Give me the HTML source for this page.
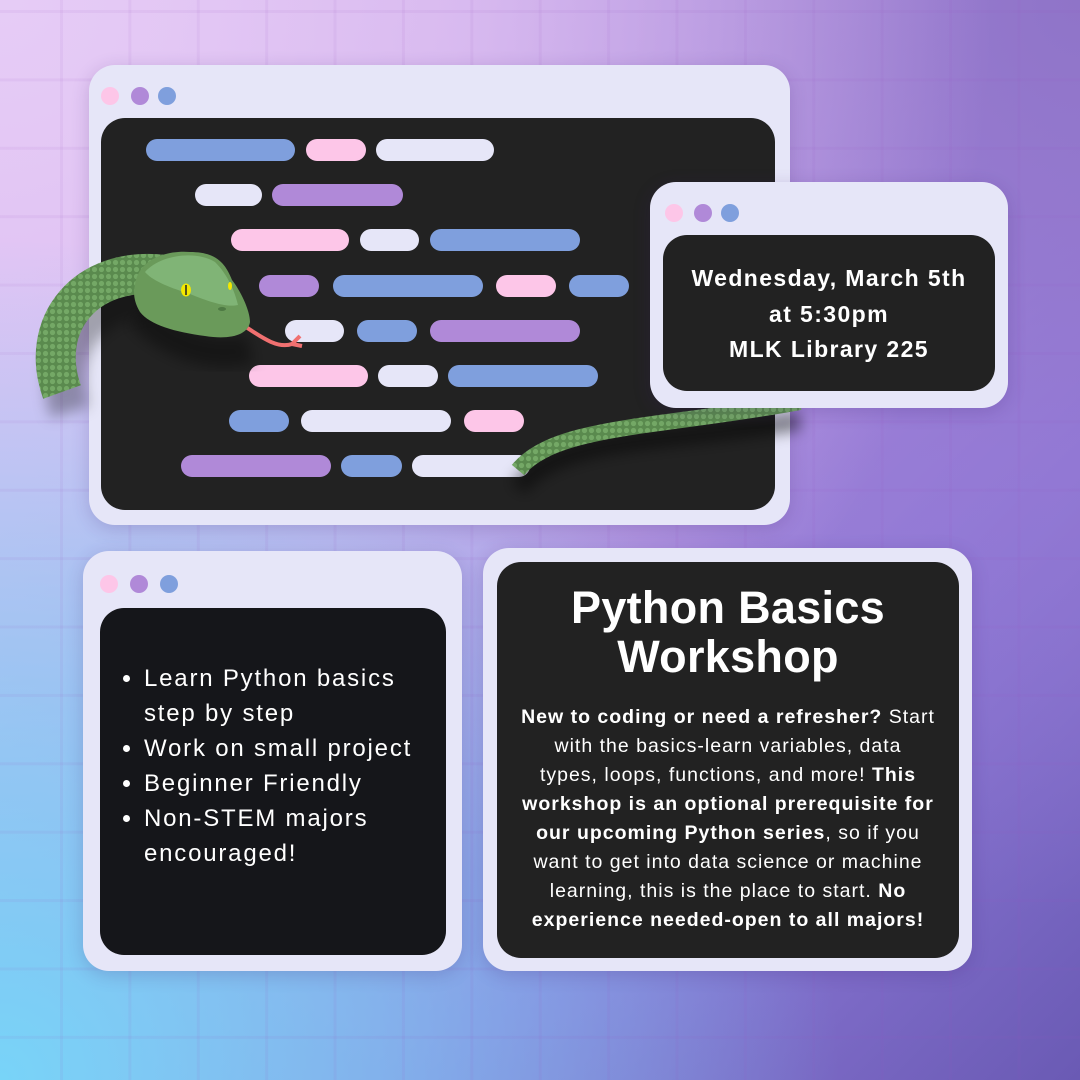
<!DOCTYPE html>
<html><head><meta charset="utf-8"><style>
*{margin:0;padding:0;box-sizing:border-box}
body{width:1080px;height:1080px;overflow:hidden;position:relative;font-family:"Liberation Sans",sans-serif;
background:
radial-gradient(circle at 0% 100%,#78d4f8 0%,rgba(120,212,248,.6) 25%,rgba(120,212,248,0) 55%),
radial-gradient(circle at 0% 0%,#e6ccf6 0%,rgba(226,196,244,.8) 30%,rgba(226,196,244,0) 65%),
radial-gradient(circle at 100% 0%,#8f74c8 0%,rgba(150,120,210,.6) 30%,rgba(150,120,210,0) 60%),
linear-gradient(135deg,#d6b4ec 0%,#b898e2 40%,#8e7ad8 70%,#6a5ab4 100%);}
.grid{position:absolute;inset:0;
background-image:linear-gradient(90deg,rgba(150,80,190,.08) 0 3px,transparent 3px),linear-gradient(0deg,rgba(150,80,190,.08) 0 3px,transparent 3px);
background-size:68.4px 68.4px;background-position:60px 0,0 13px}
.win{position:absolute;background:#e6e6f8;border-radius:26px;box-shadow:0 4px 18px rgba(60,30,110,.2)}
.in{position:absolute;background:#222;border-radius:24px}
.dot{position:absolute;width:18px;height:18px;border-radius:50%}
.p{background:#fdc6e8}.u{background:#b089d8}.b{background:#7f9fdd}.w{background:#e6e6f8}
.bar{position:absolute;height:22px;border-radius:11px}
</style></head><body>
<div class="grid"></div>

<div class="win" style="left:89px;top:65px;width:701px;height:460px">
<div class="dot p" style="left:12px;top:22px"></div><div class="dot u" style="left:42px;top:22px"></div><div class="dot b" style="left:69px;top:22px"></div>
<div class="in" style="left:12px;top:53px;width:674px;height:392px"></div>
</div>
<div id="bars">
<div class="bar b" style="left:146px;top:139px;width:149px"></div><div class="bar p" style="left:306px;top:139px;width:60px"></div><div class="bar w" style="left:376px;top:139px;width:118px"></div>
<div class="bar w" style="left:195px;top:184px;width:67px"></div><div class="bar u" style="left:272px;top:184px;width:131px"></div>
<div class="bar p" style="left:231px;top:229px;width:118px"></div><div class="bar w" style="left:360px;top:229px;width:59px"></div><div class="bar b" style="left:430px;top:229px;width:150px"></div>
<div class="bar u" style="left:259px;top:275px;width:60px"></div><div class="bar b" style="left:333px;top:275px;width:150px"></div><div class="bar p" style="left:496px;top:275px;width:60px"></div><div class="bar b" style="left:569px;top:275px;width:60px"></div>
<div class="bar w" style="left:285px;top:320px;width:59px"></div><div class="bar b" style="left:357px;top:320px;width:60px"></div><div class="bar u" style="left:430px;top:320px;width:150px"></div>
<div class="bar p" style="left:249px;top:365px;width:119px"></div><div class="bar w" style="left:378px;top:365px;width:60px"></div><div class="bar b" style="left:448px;top:365px;width:150px"></div>
<div class="bar b" style="left:229px;top:410px;width:60px"></div><div class="bar w" style="left:301px;top:410px;width:150px"></div><div class="bar p" style="left:464px;top:410px;width:60px"></div>
<div class="bar u" style="left:181px;top:455px;width:150px"></div><div class="bar b" style="left:341px;top:455px;width:61px"></div><div class="bar w" style="left:412px;top:455px;width:118px"></div>
</div>

<svg style="position:absolute;left:0;top:0" width="1080" height="1080">
<defs><pattern id="sc" width="7" height="7" patternUnits="userSpaceOnUse"><rect width="7" height="7" fill="#5a8a4e"/><circle cx="3.5" cy="3.5" r="2.6" fill="#74a866"/></pattern>
<filter id="sh" x="-50%" y="-50%" width="200%" height="200%"><feGaussianBlur stdDeviation="7"/></filter></defs>
<path d="M62 400 C40 330 90 275 170 285" stroke="rgba(0,0,0,.3)" stroke-width="40" fill="none" filter="url(#sh)" transform="translate(8,12)"/>
<path d="M62 392 C38 325 85 265 165 275" stroke="url(#sc)" stroke-width="40" fill="none"/>
<path d="M518 472 C560 420 660 428 800 405" stroke="rgba(0,0,0,.45)" stroke-width="18" fill="none" filter="url(#sh)" transform="translate(0,16)"/>
<path d="M518 470 C555 425 660 428 800 402" stroke="url(#sc)" stroke-width="16" fill="none"/>
<path d="M140 300 C170 330 210 345 250 335" stroke="rgba(0,0,0,.35)" stroke-width="30" fill="none" filter="url(#sh)" transform="translate(0,14)"/>
<path d="M238 322 C255 332 275 350 292 344 L300 336 M292 344 L302 346" stroke="#f07070" stroke-width="4" fill="none"/>
<path d="M135 285 C138 260 165 250 190 252 C215 252 225 262 232 280 C240 290 250 310 250 322 C248 335 230 340 205 336 C175 332 150 325 140 312 C134 302 133 293 135 285Z" fill="#6a9a5a"/>
<path d="M145 272 C160 255 195 250 215 262 C228 275 235 292 238 305 C225 308 205 300 190 294 C165 286 152 280 145 272Z" fill="#80b476"/>
<ellipse cx="186" cy="290" rx="5" ry="6.5" fill="#f3e800"/><line x1="186" y1="285" x2="186" y2="295" stroke="#222" stroke-width="1.5"/>
<ellipse cx="230" cy="286" rx="2" ry="4" fill="#f3e800"/>
<ellipse cx="222" cy="309" rx="4" ry="2" fill="#4e7a44"/>
</svg>

<div class="win" style="left:650px;top:182px;width:358px;height:226px">
<div class="dot p" style="left:15px;top:22px"></div><div class="dot u" style="left:44px;top:22px"></div><div class="dot b" style="left:71px;top:22px"></div>
<div class="in" style="left:13px;top:53px;width:332px;height:156px;color:#fff;font-weight:bold;font-size:23px;letter-spacing:1.4px;line-height:35.5px;text-align:center;padding-top:26px;white-space:nowrap">Wednesday, March 5th<br>at 5:30pm<br>MLK Library 225</div>
</div>

<div class="win" style="left:83px;top:551px;width:379px;height:420px">
<div class="dot p" style="left:17px;top:24px"></div><div class="dot u" style="left:47px;top:24px"></div><div class="dot b" style="left:77px;top:24px"></div>
<div class="in" style="left:17px;top:57px;width:346px;height:347px;background:#15161a">
<ul style="color:#fff;font-size:24px;letter-spacing:1.8px;line-height:35px;position:absolute;left:44px;top:53px;width:290px;white-space:nowrap">
<li>Learn Python basics<br>step by step</li><li>Work on small project</li><li>Beginner Friendly</li><li>Non-STEM majors<br>encouraged!</li></ul></div>
</div>

<div class="win" style="left:483px;top:548px;width:489px;height:423px">
<div class="in" style="left:14px;top:14px;width:462px;height:396px;color:#fff;text-align:center">
<div style="font-size:45px;line-height:49px;font-weight:bold;margin-top:21px;letter-spacing:.3px">Python Basics<br>Workshop</div>
<div style="font-size:19.5px;letter-spacing:1px;line-height:29px;margin-top:22px;white-space:nowrap"><b>New to coding or need a refresher?</b> Start<br>with the basics-learn variables, data<br>types, loops, functions, and more! <b>This</b><br><b>workshop is an optional prerequisite for</b><br><b>our upcoming Python series</b>, so if you<br>want to get into data science or machine<br>learning, this is the place to start. <b>No</b><br><b>experience needed-open to all majors!</b></div>
</div></div>
</body></html>
